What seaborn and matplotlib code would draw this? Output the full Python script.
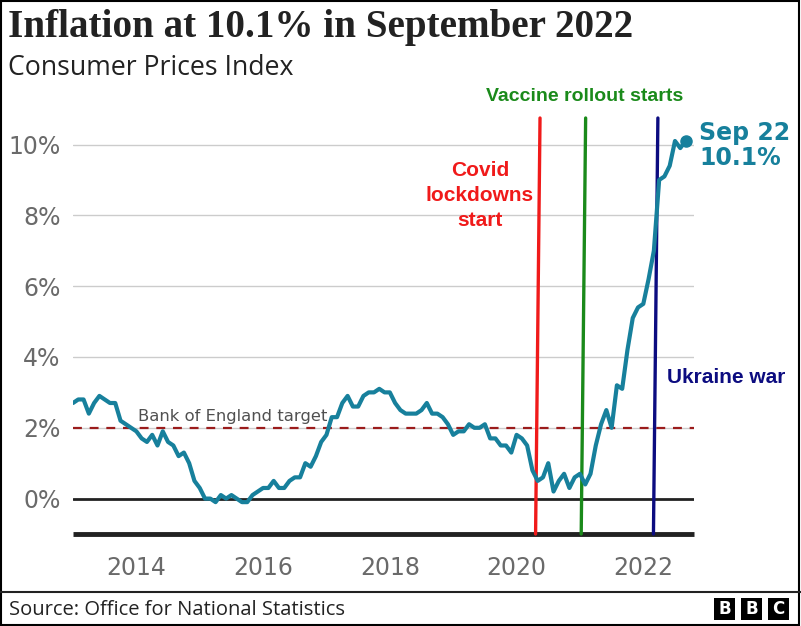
import numpy as np
import pandas as pd
import seaborn as sns
import matplotlib.pyplot as plt
from matplotlib.patches import Rectangle
from matplotlib.lines import Line2D

# UK CPI annual rate, monthly, Jan 2013 - Sep 2022
cpi_2013 = [2.7, 2.8, 2.8, 2.4, 2.7, 2.9, 2.8, 2.7, 2.7, 2.2, 2.1, 2.0]
cpi_2014 = [1.9, 1.7, 1.6, 1.8, 1.5, 1.9, 1.6, 1.5, 1.2, 1.3, 1.0, 0.5]
cpi_2015 = [0.3, 0.0, 0.0, -0.1, 0.1, 0.0, 0.1, 0.0, -0.1, -0.1, 0.1, 0.2]
cpi_2016 = [0.3, 0.3, 0.5, 0.3, 0.3, 0.5, 0.6, 0.6, 1.0, 0.9, 1.2, 1.6]
cpi_2017 = [1.8, 2.3, 2.3, 2.7, 2.9, 2.6, 2.6, 2.9, 3.0, 3.0, 3.1, 3.0]
cpi_2018 = [3.0, 2.7, 2.5, 2.4, 2.4, 2.4, 2.5, 2.7, 2.4, 2.4, 2.3, 2.1]
cpi_2019 = [1.8, 1.9, 1.9, 2.1, 2.0, 2.0, 2.1, 1.7, 1.7, 1.5, 1.5, 1.3]
cpi_2020 = [1.8, 1.7, 1.5, 0.8, 0.5, 0.6, 1.0, 0.2, 0.5, 0.7, 0.3, 0.6]
cpi_2021 = [0.7, 0.4, 0.7, 1.5, 2.1, 2.5, 2.0, 3.2, 3.1, 4.2, 5.1, 5.4]
cpi_2022 = [5.5, 6.2, 7.0, 9.0, 9.1, 9.4, 10.1, 9.9, 10.1]
start_year = 2013

target = 2.0
yticks = [0, 2, 4, 6, 8, 10]
xticks = [2014, 2016, 2018, 2020, 2022]

# events (decimal year where the marker line hits the axis)
event_names = ["Covid\nlockdowns\nstart", "Vaccine rollout starts", "Ukraine war"]
event_dates = [2020.30, 2021.02, 2022.16]
event_colors = ["#f01a1a", "#1a8a1a", "#0c0c80"]

cpi = cpi_2013 + cpi_2014 + cpi_2015 + cpi_2016 + cpi_2017 + cpi_2018 + cpi_2019 + cpi_2020 + cpi_2021 + cpi_2022
df = pd.DataFrame({"year": start_year + np.arange(len(cpi)) / 12, "cpi": cpi})

sns.set_style("white")
plt.rcParams['font.family'] = ['DejaVu Sans']

W, H = 801, 626
fig = plt.figure(figsize=(W / 100, H / 100), dpi=100)
fx = lambda px: px / W
fy = lambda py: 1 - py / H

ax = fig.add_axes([fx(73), fy(534), (694 - 73) / W, (534 - 118) / H])
teal = "#17809c"

# grid + reference lines
for v in yticks[1:]:
    ax.axhline(v, color="#cccccc", lw=1, zorder=1)
ax.axhline(0, color="#222222", lw=2, zorder=2)
ax.axhline(target, color="#9b1c1c", lw=1.6, ls=(0, (4, 3.5)), zorder=2)
ax.text(2014.02, 2.2, "Bank of England target", fontsize=11.8, color="#505050", va="baseline")

sns.lineplot(data=df, x="year", y="cpi", color=teal, lw=3, ax=ax, zorder=4)
ax.plot(df["year"].iloc[-1], df["cpi"].iloc[-1], "o", color=teal, ms=8, zorder=5)

ax.set_xlim(2013, 2022.8)
ax.set_ylim(-1, 10.75)

# event lines, slightly slanted like the original
for d, c in zip(event_dates, event_colors):
    ax.plot([d, d + 0.07], [-1, 10.75], color=c, lw=2.4, zorder=3, clip_on=False)

bold = ['Liberation Sans', 'DejaVu Sans']
ax.text(2019.42, 8.56, event_names[0], color=event_colors[0], fontsize=15, fontweight="bold",
        family=bold, ha="center", va="center", linespacing=1.38)
ax.text(2021.07, 11.36, event_names[1], color=event_colors[1], fontsize=14, fontweight="bold",
        family=bold, ha="center", va="center")
ax.text(2022.38, 3.42, event_names[2], color=event_colors[2], fontsize=15, fontweight="bold",
        family=bold, ha="left", va="center")
ax.text(2022.88, 9.98, "Sep 22\n10.1%", color=teal, fontsize=17, fontweight="bold",
        ha="left", va="center", linespacing=1.05)

# axes styling
for s in ["left", "right", "top"]:
    ax.spines[s].set_visible(False)
ax.spines["bottom"].set_color("#222222")
ax.spines["bottom"].set_linewidth(3.5)
ax.spines["bottom"].set_capstyle("butt")
ax.set_yticks(yticks)
ax.set_yticklabels([f"{v}%" for v in yticks])
ax.set_xticks(xticks)
ax.set_xticklabels([str(v) for v in xticks])
ax.tick_params(axis="y", length=0, pad=9, labelsize=17, labelcolor="#6a6a6a")
ax.tick_params(axis="x", length=6, width=1, color="#555555", pad=10, labelsize=17, labelcolor="#6a6a6a")
ax.set_xlabel("")
ax.set_ylabel("")
ax.grid(False)

# titles
fig.text(fx(8), fy(37), "Inflation at 10.1% in September 2022", fontsize=28.2, fontweight="bold",
         family=['Liberation Serif', 'DejaVu Serif'], color="#222222", va="baseline")
fig.text(fx(8), fy(75), "Consumer Prices Index", fontsize=19.2,
         family=['Open Sans', 'DejaVu Sans'], color="#222222", va="baseline")

# footer
fig.add_artist(Line2D([0, 1], [fy(592), fy(592)], transform=fig.transFigure, color="#222222", lw=1.5))
fig.text(fx(9), fy(615), "Source: Office for National Statistics", fontsize=14.5,
         family=['Open Sans', 'DejaVu Sans'], color="#222222", va="baseline")
for i, letter in enumerate("BBC"):
    x0 = 714 + i * 27
    fig.add_artist(Rectangle((fx(x0), fy(620)), 21 / W, 22 / H, transform=fig.transFigure,
                             facecolor="black", edgecolor="none"))
    fig.text(fx(x0 + 10.5), fy(609), letter, color="white", fontsize=12, fontweight="bold",
             ha="center", va="center")

# outer frame
fig.add_artist(Rectangle((0.001, 0.001), 0.997, 0.997, transform=fig.transFigure,
                         facecolor="none", edgecolor="black", lw=1.5))

fig.savefig("out.png", dpi=100)
